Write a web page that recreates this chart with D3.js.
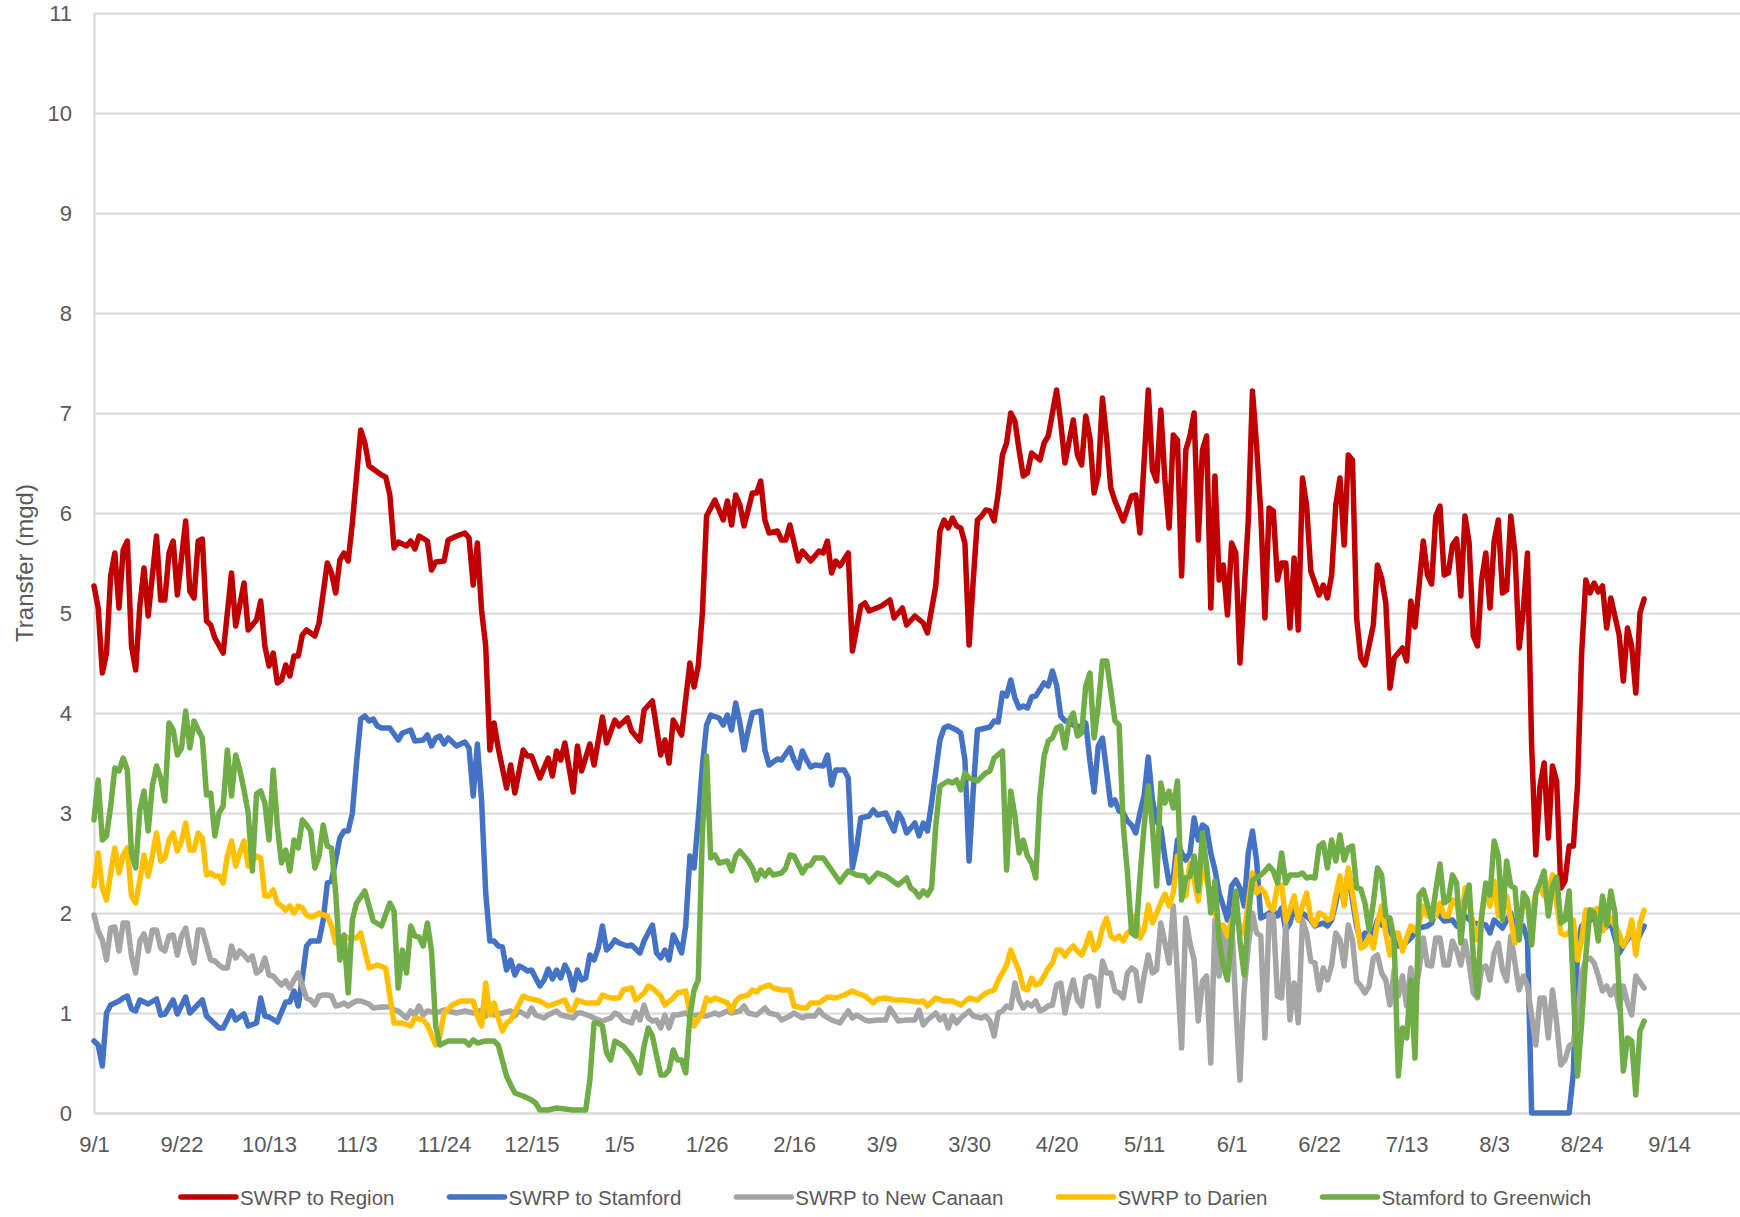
<!DOCTYPE html>
<html>
<head>
<meta charset="utf-8">
<script src="https://cdn.jsdelivr.net/npm/d3@7"></script>
<style>
  body { margin: 0; background: #fff; }
  svg text { font-family: 'Liberation Sans', Arial, sans-serif; fill: #595959; }
</style>
</head>
<body>
<svg id="chart" width="1740" height="1217"></svg>
<script>
/* ---------- data (day offset from 9/1, value in mgd) ---------- */
const startDate = new Date(Date.UTC(2018, 8, 1));
const tickEveryDays = 21;
const tickCount = 19;
const yTickValues = d3.range(0, 12);
const axisTitle = 'Transfer (mgd)';

const seriesNames = ['SWRP to Region', 'SWRP to Stamford', 'SWRP to New Canaan', 'SWRP to Darien', 'Stamford to Greenwich'];
const seriesColors = ['#C00000', '#4472C4', '#A5A5A5', '#FFC000', '#70AD47'];

const swrpToRegion = [
  [0,5.27],[1,5.05],[2,4.4],[3,4.6],[4,5.37],[5,5.6],[6,5.05],[7,5.63],[8,5.72],[9,4.67],[10,4.43],[11,5.07],[12,5.45],[13,4.97],[15,5.77],[16,5.13],[17,5.13],[18,5.6],[19,5.72],[20,5.18],
  [22,5.92],[23,5.22],[24,5.15],[25,5.72],[26,5.74],[27,4.92],[28,4.88],[29,4.75],[31,4.6],[33,5.4],[34,4.87],[36,5.3],[37,4.83],[39,4.93],[40,5.12],[41,4.67],[42,4.47],[43,4.6],[44,4.3],
  [45,4.33],[46,4.48],[47,4.37],[48,4.57],[49,4.57],[50,4.78],[51,4.83],[53,4.77],[54,4.9],[56,5.5],[57,5.4],[58,5.2],[59,5.53],[60,5.6],[61,5.52],[62,5.9],[64,6.83],[65,6.7],[66,6.47],
  [67,6.44],[69,6.38],[70,6.36],[71,6.18],[72,5.65],[73,5.71],[75,5.67],[76,5.72],[77,5.64],[78,5.77],[80,5.72],[81,5.43],[82,5.51],[84,5.52],[85,5.73],[87,5.77],[89,5.8],[90,5.75],
  [91,5.28],[92,5.7],[93,5.03],[94,4.67],[95,3.63],[96,3.9],[97,3.65],[99,3.25],[100,3.48],[101,3.2],[103,3.63],[104,3.57],[105,3.57],[107,3.35],[109,3.55],[110,3.37],[111,3.62],
  [112,3.53],[113,3.7],[115,3.21],[116,3.67],[117,3.42],[119,3.69],[120,3.48],[122,3.96],[123,3.7],[125,3.93],[126,3.87],[128,3.95],[129,3.82],[131,3.72],[132,4.03],[134,4.12],
  [136,3.58],[137,3.73],[138,3.5],[139,3.93],[141,3.78],[143,4.5],[144,4.26],[145,4.47],[146,5.0],[147,5.97],[149,6.13],[151,5.93],[152,6.12],[153,5.88],[154,6.18],[155,6.08],
  [156,5.87],[158,6.2],[159,6.2],[160,6.32],[161,5.93],[162,5.8],[164,5.82],[165,5.73],[166,5.73],[167,5.88],[169,5.52],[170,5.62],[172,5.52],[174,5.62],[175,5.6],[176,5.72],
  [177,5.4],[178,5.52],[179,5.47],[181,5.6],[182,4.62],[184,5.07],[185,5.1],[186,5.02],[189,5.07],[191,5.13],[192,4.95],[194,5.05],[195,4.88],[197,4.97],[199,4.9],[200,4.8],
  [202,5.27],[203,5.82],[204,5.93],[205,5.85],[206,5.95],[207,5.87],[208,5.85],[209,5.7],[210,4.68],[211,5.33],[212,5.93],[213,5.97],[214,6.03],[215,6.02],[216,5.92],[217,6.2],
  [218,6.58],[219,6.7],[220,7.0],[221,6.92],[222,6.63],[223,6.37],[224,6.4],[225,6.6],[227,6.53],[228,6.7],[229,6.77],[231,7.23],[232,6.9],[233,6.5],[235,6.93],[236,6.58],
  [237,6.48],[238,6.97],[239,6.75],[240,6.2],[241,6.38],[242,7.15],[243,6.75],[244,6.25],[245,6.12],[247,5.92],[249,6.17],[250,6.18],[251,5.8],[253,7.23],[254,6.43],[255,6.32],
  [256,7.03],[257,6.33],[258,5.85],[259,6.78],[260,6.73],[261,5.37],[262,6.63],[263,6.77],[264,7.0],[265,5.73],[266,6.63],[267,6.77],[268,5.05],[269,6.37],[270,5.33],[271,5.48],
  [272,4.98],[273,5.7],[274,5.6],[275,4.5],[277,5.93],[278,7.22],[279,6.67],[280,6.0],[281,4.95],[282,6.05],[283,6.02],[284,5.33],[285,5.5],[286,5.5],[287,4.85],[288,5.55],
  [289,4.83],[290,6.35],[291,6.07],[292,5.42],[294,5.18],[295,5.28],[296,5.15],[297,5.38],[298,6.08],[299,6.35],[300,5.68],[301,6.58],[302,6.53],[303,4.95],[304,4.55],[305,4.48],
  [307,4.88],[308,5.48],[309,5.35],[310,5.1],[311,4.25],[312,4.55],[314,4.65],[315,4.52],[316,5.12],[317,4.86],[318,5.28],[319,5.72],[320,5.38],[321,5.29],[322,5.97],[323,6.07],
  [324,5.38],[325,5.4],[326,5.68],[327,5.74],[328,5.17],[329,5.97],[330,5.7],[331,4.77],[332,4.67],[333,5.33],[334,5.6],[335,5.05],[336,5.72],[337,5.93],[338,5.2],[339,5.23],
  [340,5.97],[341,5.6],[342,4.65],[343,5.03],[344,5.6],[345,3.67],[346,2.58],[347,3.27],[348,3.5],[349,2.75],[350,3.47],[351,3.32],[352,2.25],[353,2.32],[354,2.67],[355,2.67],
  [356,3.27],[357,4.6],[358,5.33],[359,5.2],[360,5.3],[361,5.21],[362,5.27],[363,4.85],[364,5.15],[366,4.78],[367,4.32],[368,4.85],[369,4.67],[370,4.2],[371,5.0],[372,5.14]
];

const swrpToStamford = [
  [0,0.72],[1,0.68],[2,0.47],[3,1.0],[4,1.08],[6,1.12],[7,1.15],[8,1.17],[9,1.04],[10,1.02],[11,1.13],[13,1.09],[15,1.14],[16,0.98],[17,0.99],[19,1.13],[20,0.99],[22,1.16],[23,1.0],
  [26,1.13],[27,0.97],[28,0.93],[30,0.85],[31,0.85],[33,1.02],[34,0.93],[36,0.99],[37,0.87],[39,0.9],[40,1.15],[41,0.97],[42,0.96],[44,0.91],[46,1.11],[47,1.11],[48,1.22],[49,1.07],
  [50,1.35],[51,1.67],[52,1.72],[54,1.72],[55,1.93],[56,2.3],[57,2.32],[59,2.75],[60,2.82],[61,2.82],[62,3.0],[63,3.5],[64,3.94],[65,3.97],[66,3.92],[67,3.94],[68,3.87],[69,3.85],
  [71,3.85],[73,3.73],[74,3.8],[76,3.83],[77,3.72],[79,3.73],[80,3.78],[81,3.67],[82,3.75],[83,3.77],[84,3.69],[85,3.75],[87,3.67],[89,3.71],[90,3.65],[91,3.17],[92,3.69],[93,3.13],
  [94,2.2],[95,1.72],[96,1.72],[97,1.67],[98,1.66],[99,1.43],[100,1.53],[101,1.38],[102,1.47],[103,1.45],[104,1.42],[105,1.43],[106,1.35],[107,1.27],[108,1.33],[109,1.44],[110,1.34],
  [111,1.43],[112,1.35],[113,1.48],[114,1.4],[115,1.23],[116,1.43],[117,1.33],[118,1.35],[119,1.58],[120,1.53],[121,1.65],[122,1.87],[123,1.63],[124,1.67],[125,1.73],[126,1.7],
  [128,1.67],[129,1.68],[131,1.6],[132,1.72],[134,1.88],[135,1.6],[136,1.55],[137,1.63],[138,1.53],[139,1.78],[140,1.7],[141,1.6],[142,1.87],[143,2.57],[144,2.45],[145,2.93],
  [146,3.47],[147,3.88],[148,3.98],[150,3.95],[151,3.88],[152,3.98],[153,3.83],[154,4.1],[155,3.9],[156,3.63],[157,3.83],[158,4.0],[160,4.02],[161,3.63],[162,3.48],[164,3.54],
  [165,3.53],[167,3.65],[168,3.53],[169,3.45],[170,3.62],[171,3.53],[172,3.46],[173,3.48],[175,3.47],[176,3.58],[177,3.28],[178,3.43],[180,3.43],[181,3.35],[182,2.45],[183,2.65],
  [184,2.95],[186,2.97],[187,3.03],[188,2.98],[190,3.0],[192,2.82],[193,3.0],[194,2.93],[195,2.8],[197,2.9],[198,2.77],[199,2.9],[200,2.82],[201,3.1],[203,3.73],[204,3.85],
  [205,3.87],[207,3.83],[208,3.8],[209,3.53],[210,2.52],[211,3.23],[212,3.83],[214,3.85],[215,3.86],[216,3.92],[217,3.91],[218,4.2],[219,4.17],[220,4.33],[221,4.15],[222,4.05],
  [223,4.07],[224,4.05],[225,4.16],[226,4.17],[228,4.3],[229,4.27],[230,4.42],[231,4.28],[232,3.97],[233,3.92],[234,3.92],[235,3.88],[236,3.87],[237,3.85],[238,3.9],[239,3.52],
  [240,3.21],[241,3.67],[242,3.75],[243,3.42],[244,3.08],[245,3.13],[246,3.02],[247,3.0],[248,2.92],[249,2.88],[250,2.8],[251,3.0],[252,3.17],[253,3.56],[254,3.13],[255,2.92],
  [256,2.85],[257,2.55],[258,2.3],[259,2.35],[260,2.73],[261,2.6],[262,2.53],[263,2.6],[264,2.95],[265,2.73],[266,2.88],[267,2.85],[268,2.6],[269,2.43],[270,2.2],[271,2.07],
  [272,1.93],[273,2.27],[274,2.33],[275,2.25],[276,2.07],[277,2.6],[278,2.82],[279,2.52],[280,1.95],[281,1.97],[282,2.0],[283,2.02],[284,1.97],[285,2.05],[286,1.83],[287,1.9],
  [288,2.07],[289,1.93],[290,2.0],[292,1.93],[293,1.87],[295,1.9],[296,1.87],[297,1.93],[298,2.1],[299,2.33],[300,2.1],[301,2.43],[302,2.13],[303,1.87],[304,1.72],[305,1.8],
  [306,1.75],[307,1.8],[308,1.93],[309,1.88],[310,1.95],[311,1.83],[312,1.73],[313,1.67],[314,1.67],[316,1.75],[318,1.85],[320,1.87],[321,1.9],[322,2.02],[324,1.92],[326,1.93],
  [327,1.87],[329,1.97],[331,1.9],[334,1.88],[335,1.8],[336,1.93],[338,1.85],[340,2.0],[341,1.8],[343,1.87],[344,1.73],[345,0],[354,0],[355,0.4],[356,1.65],[357,1.87],[360,1.95],
  [362,1.83],[364,1.9],[366,1.6],[367,1.67],[369,1.8],[370,1.7],[372,1.87]
];

const swrpToNewCanaan = [
  [0,1.98],[1,1.82],[2,1.73],[3,1.53],[4,1.85],[5,1.86],[6,1.62],[7,1.9],[8,1.9],[9,1.57],[10,1.4],[11,1.72],[12,1.79],[13,1.62],[14,1.83],[15,1.83],[16,1.65],[17,1.62],[18,1.77],
  [19,1.78],[20,1.58],[21,1.77],[22,1.85],[23,1.63],[24,1.5],[25,1.83],[26,1.83],[27,1.68],[28,1.53],[29,1.52],[30,1.48],[31,1.45],[32,1.45],[33,1.67],[34,1.55],[35,1.62],[36,1.58],
  [37,1.53],[38,1.57],[39,1.4],[40,1.43],[41,1.55],[42,1.38],[43,1.37],[44,1.32],[45,1.28],[46,1.32],[47,1.25],[48,1.33],[49,1.4],[50,1.27],[51,1.15],[52,1.13],[53,1.08],[54,1.17],
  [55,1.18],[56,1.18],[57,1.17],[58,1.07],[59,1.08],[60,1.1],[61,1.07],[62,1.1],[63,1.12],[64,1.12],[66,1.09],[67,1.05],[69,1.06],[71,1.06],[72,1.03],[73,1.02],[75,0.95],[76,1.02],
  [77,0.98],[78,1.07],[79,0.98],[80,1.02],[82,1.0],[84,1.03],[85,1.02],[87,1.0],[89,1.02],[91,1.0],[93,1.03],[94,0.97],[95,1.05],[96,0.98],[98,1.0],[100,1.02],[101,0.97],[102,1.02],
  [104,0.97],[105,1.05],[106,0.98],[108,0.95],[109,0.98],[111,1.02],[112,0.98],[115,0.95],[116,1.0],[117,1.0],[119,0.97],[121,0.93],[122,0.92],[124,0.95],[125,1.0],[126,0.98],
  [127,0.93],[129,0.9],[130,1.01],[131,0.93],[132,1.08],[133,0.95],[134,0.92],[135,0.93],[136,0.85],[137,0.98],[138,0.85],[139,0.98],[140,0.98],[142,1.0],[143,0.97],[145,0.98],
  [147,0.97],[149,1.0],[150,0.98],[152,1.02],[153,1.0],[155,1.02],[156,1.07],[157,1.0],[159,0.98],[161,1.05],[162,1.0],[164,0.98],[165,0.93],[167,0.97],[168,1.0],[170,0.95],
  [171,0.97],[173,0.97],[174,1.03],[175,0.98],[177,0.93],[179,0.9],[181,1.02],[182,0.95],[183,0.98],[185,0.93],[186,0.92],[188,0.93],[190,0.93],[191,1.05],[193,0.92],[195,0.93],
  [197,0.93],[198,1.03],[199,0.88],[200,0.93],[202,1.0],[203,0.93],[204,0.97],[205,0.85],[206,0.97],[207,0.9],[208,0.95],[210,1.02],[211,0.97],[213,0.95],[214,0.97],[215,0.92],
  [216,0.77],[217,1.0],[218,1.02],[219,1.07],[220,1.05],[221,1.3],[222,1.13],[223,1.05],[224,1.1],[225,1.07],[226,1.12],[227,1.02],[228,1.04],[229,1.07],[230,1.08],[231,1.28],
  [232,1.3],[233,1.0],[234,1.18],[235,1.33],[236,1.13],[237,1.07],[238,1.35],[239,1.37],[240,1.35],[241,1.07],[242,1.52],[243,1.4],[244,1.4],[245,1.22],[246,1.2],[247,1.15],
  [248,1.4],[249,1.45],[250,1.42],[251,1.12],[252,1.37],[253,1.58],[254,1.4],[255,1.43],[256,1.9],[257,1.7],[258,1.5],[259,2.07],[260,1.38],[261,0.65],[262,1.95],[263,1.7],
  [264,1.53],[265,0.92],[266,1.32],[267,1.37],[268,0.5],[269,1.93],[270,1.37],[271,1.87],[272,1.48],[273,1.93],[274,1.07],[275,0.33],[276,1.23],[277,1.67],[278,2.0],[279,1.8],
  [280,1.77],[281,0.75],[282,1.98],[283,1.97],[284,1.17],[285,1.15],[286,1.88],[287,0.93],[288,1.3],[289,0.9],[290,1.93],[291,1.8],[292,1.52],[293,1.5],[294,1.23],[295,1.45],
  [296,1.33],[297,1.48],[298,1.8],[299,1.73],[300,1.47],[301,1.88],[302,1.73],[303,1.32],[304,1.27],[305,1.2],[306,1.27],[307,1.55],[308,1.58],[309,1.4],[310,1.33],[311,1.08],
  [312,1.43],[313,1.17],[314,1.37],[315,1.07],[316,1.45],[317,1.2],[318,1.43],[319,1.75],[320,1.48],[321,1.47],[322,1.75],[323,1.75],[324,1.48],[325,1.48],[326,1.72],[327,1.63],
  [328,1.48],[329,1.72],[330,1.5],[331,1.2],[332,1.15],[333,1.45],[334,1.47],[335,1.33],[336,1.6],[337,1.7],[338,1.43],[339,1.32],[340,1.77],[341,1.5],[342,1.23],[343,1.37],
  [344,1.27],[345,0.97],[346,0.68],[347,1.15],[348,1.15],[349,0.75],[350,1.23],[351,0.9],[352,0.48],[353,0.53],[354,0.67],[355,0.7],[356,0.93],[357,1.4],[358,1.53],[359,1.55],
  [360,1.5],[361,1.37],[362,1.22],[363,1.27],[364,1.18],[365,1.27],[366,1.05],[367,1.27],[368,1.1],[369,0.98],[370,1.37],[372,1.25]
];

const swrpToDarien = [
  [0,2.27],[1,2.6],[2,2.25],[3,2.13],[4,2.4],[5,2.65],[6,2.4],[7,2.58],[8,2.65],[9,2.17],[10,2.1],[11,2.33],[12,2.58],[13,2.37],[14,2.57],[15,2.8],[16,2.52],[17,2.55],[18,2.73],
  [19,2.8],[20,2.62],[21,2.72],[22,2.9],[23,2.63],[24,2.63],[25,2.8],[26,2.75],[27,2.38],[28,2.4],[29,2.37],[30,2.37],[31,2.3],[32,2.57],[33,2.72],[34,2.47],[35,2.6],[36,2.72],
  [37,2.47],[38,2.52],[39,2.57],[40,2.55],[41,2.17],[42,2.17],[43,2.23],[44,2.1],[45,2.07],[46,2.03],[47,2.07],[48,2.0],[49,2.07],[50,2.05],[51,1.98],[52,1.96],[53,1.97],[54,2.0],
  [55,1.98],[56,1.97],[57,1.87],[58,1.7],[59,1.7],[60,1.77],[61,1.75],[63,1.75],[64,1.8],[65,1.62],[66,1.45],[68,1.48],[70,1.45],[71,1.17],[72,0.9],[74,0.9],[76,0.87],[77,0.95],
  [79,0.93],[80,0.88],[82,0.68],[83,0.77],[84,1.0],[86,1.08],[88,1.12],[91,1.12],[92,0.97],[93,0.87],[94,1.3],[95,0.98],[96,1.1],[97,0.95],[98,0.82],[99,0.9],[100,0.93],[103,1.17],
  [104,1.15],[107,1.12],[109,1.07],[111,1.1],[113,1.13],[114,1.03],[115,1.03],[116,1.13],[118,1.1],[121,1.1],[122,1.18],[124,1.15],[126,1.15],[127,1.23],[129,1.25],[130,1.13],
  [132,1.2],[133,1.27],[134,1.25],[136,1.17],[137,1.08],[139,1.15],[140,1.2],[142,1.22],[143,1.0],[144,0.87],[146,1.0],[147,1.15],[148,1.12],[149,1.15],[151,1.12],[152,1.1],
  [153,1.02],[154,1.12],[155,1.16],[157,1.18],[158,1.23],[159,1.21],[160,1.25],[162,1.28],[163,1.25],[165,1.23],[167,1.23],[168,1.07],[170,1.05],[171,1.05],[172,1.1],[174,1.1],
  [176,1.16],[178,1.15],[180,1.18],[182,1.22],[183,1.2],[185,1.17],[187,1.1],[188,1.14],[190,1.15],[192,1.13],[194,1.13],[196,1.12],[198,1.11],[199,1.12],[200,1.07],[202,1.15],
  [204,1.12],[206,1.12],[208,1.08],[210,1.15],[212,1.13],[214,1.2],[216,1.23],[217,1.33],[218,1.4],[219,1.48],[220,1.63],[221,1.52],[222,1.42],[223,1.25],[224,1.23],[225,1.35],
  [226,1.28],[227,1.3],[228,1.37],[229,1.45],[230,1.5],[231,1.63],[232,1.63],[233,1.57],[234,1.63],[235,1.67],[236,1.62],[237,1.58],[238,1.67],[239,1.8],[240,1.63],[241,1.67],
  [242,1.85],[243,1.95],[244,1.77],[245,1.74],[246,1.77],[247,1.72],[248,1.8],[249,1.83],[250,1.98],[251,1.75],[252,1.83],[253,2.08],[254,1.9],[255,2.0],[256,2.1],[257,2.19],
  [258,2.07],[259,2.2],[260,2.57],[261,2.4],[262,2.17],[263,2.5],[264,2.33],[265,2.12],[266,2.48],[267,2.33],[268,2.17],[269,2.0],[270,1.87],[271,1.88],[272,1.77],[273,1.92],
  [274,2.0],[275,1.87],[276,1.8],[277,2.1],[278,2.4],[279,2.2],[280,2.25],[281,2.2],[282,2.07],[283,2.03],[284,2.27],[285,2.28],[286,1.92],[287,2.03],[288,2.17],[289,1.93],
  [290,2.07],[291,2.2],[292,1.95],[293,1.88],[294,2.0],[295,1.98],[296,1.93],[297,1.95],[298,2.18],[299,2.37],[300,2.07],[301,2.45],[302,2.2],[303,1.93],[304,1.65],[305,1.67],
  [306,1.77],[307,1.65],[308,1.9],[309,2.07],[310,1.8],[311,1.58],[312,1.8],[313,1.8],[314,1.62],[315,1.75],[316,1.87],[317,1.82],[318,1.9],[319,2.07],[320,1.97],[321,2.02],
  [322,1.97],[323,2.1],[324,1.97],[325,1.97],[326,2.13],[327,2.1],[328,1.87],[329,2.25],[330,2.1],[331,1.87],[332,1.73],[333,1.97],[334,2.25],[335,2.07],[336,2.32],[337,1.97],
  [338,2.07],[339,2.17],[340,1.93],[341,1.7],[342,1.92],[343,2.07],[344,2.07],[345,1.97],[346,2.2],[347,2.27],[348,2.17],[349,2.2],[350,2.38],[351,2.1],[352,1.8],[353,1.78],
  [354,1.8],[355,1.93],[356,1.53],[357,1.73],[358,2.03],[359,2.03],[360,2.03],[361,2.05],[362,1.82],[364,1.95],[365,1.87],[366,1.8],[367,1.67],[368,1.75],[369,1.93],[370,1.58],
  [371,1.9],[372,2.03]
];

const stamfordToGreenwich = [
  [0,2.93],[1,3.33],[2,2.73],[3,2.77],[4,3.07],[5,3.45],[6,3.42],[7,3.55],[8,3.43],[9,2.6],[10,2.45],[11,3.03],[12,3.22],[13,2.82],[14,3.27],[15,3.47],[16,3.35],[17,3.12],[18,3.9],
  [19,3.83],[20,3.58],[21,3.65],[22,4.02],[23,3.65],[24,3.92],[25,3.83],[26,3.75],[27,3.18],[28,3.2],[29,2.77],[30,3.0],[31,3.07],[32,3.63],[33,3.17],[34,3.58],[35,3.43],[36,3.23],
  [37,3.0],[38,2.42],[39,3.19],[40,3.22],[41,3.1],[42,2.73],[43,3.43],[44,2.87],[45,2.5],[46,2.63],[47,2.42],[48,2.73],[49,2.65],[50,2.93],[51,2.88],[52,2.82],[53,2.45],[54,2.57],
  [55,2.88],[56,2.67],[57,2.65],[58,2.2],[59,1.53],[60,1.78],[61,1.2],[62,1.93],[63,2.1],[65,2.22],[67,1.92],[69,1.87],[71,2.1],[72,2.02],[73,1.25],[74,1.63],[75,1.4],[76,1.87],
  [77,1.77],[78,1.76],[79,1.67],[80,1.9],[81,1.62],[82,0.87],[83,0.68],[85,0.72],[87,0.72],[89,0.72],[90,0.68],[91,0.73],[92,0.7],[94,0.72],[96,0.72],[97,0.68],[99,0.37],[100,0.28],
  [101,0.2],[103,0.17],[105,0.13],[106,0.1],[107,0.03],[109,0.03],[111,0.05],[113,0.04],[115,0.03],[118,0.03],[119,0.33],[120,0.9],[121,0.9],[122,0.87],[123,0.6],[124,0.53],
  [125,0.72],[127,0.67],[129,0.57],[131,0.4],[132,0.67],[133,0.85],[134,0.77],[136,0.38],[137,0.38],[138,0.43],[139,0.63],[140,0.53],[141,0.53],[142,0.4],[143,0.97],[144,1.23],
  [145,1.33],[146,2.8],[147,3.57],[148,2.55],[149,2.58],[150,2.5],[152,2.52],[153,2.42],[154,2.57],[155,2.62],[156,2.57],[157,2.52],[158,2.45],[159,2.33],[160,2.43],[161,2.37],
  [162,2.43],[163,2.38],[165,2.4],[166,2.45],[167,2.58],[168,2.57],[170,2.4],[171,2.47],[172,2.48],[173,2.55],[175,2.55],[177,2.43],[179,2.31],[180,2.37],[181,2.42],[183,2.38],
  [185,2.37],[186,2.31],[188,2.4],[190,2.37],[193,2.28],[195,2.35],[196,2.25],[197,2.22],[198,2.16],[199,2.22],[200,2.18],[201,2.25],[202,2.87],[203,3.27],[205,3.32],[206,3.3],
  [207,3.33],[208,3.23],[209,3.4],[210,3.35],[212,3.32],[214,3.4],[215,3.42],[216,3.55],[218,3.62],[219,2.43],[220,3.22],[221,2.97],[222,2.6],[223,2.73],[224,2.57],[225,2.5],
  [226,2.35],[227,3.17],[228,3.57],[229,3.72],[230,3.75],[231,3.85],[232,3.87],[233,3.65],[234,3.92],[235,4.0],[236,3.77],[237,3.8],[238,4.27],[239,4.4],[240,3.75],[241,4.07],
  [242,4.52],[243,4.52],[244,4.23],[245,3.92],[246,3.88],[247,2.87],[248,2.4],[249,1.8],[250,1.77],[251,2.35],[252,2.87],[253,3.27],[254,2.87],[255,2.27],[256,3.3],[257,3.1],
  [258,3.22],[259,3.05],[260,3.32],[261,2.13],[262,2.35],[263,2.37],[264,2.57],[265,2.22],[266,2.8],[267,2.47],[268,2.0],[269,2.32],[270,1.73],[271,1.47],[272,1.33],[273,1.77],
  [274,2.22],[275,1.72],[276,1.38],[277,1.97],[278,2.33],[280,2.38],[281,2.42],[282,2.47],[283,2.42],[284,2.3],[285,2.6],[286,2.3],[287,2.38],[289,2.38],[290,2.4],[291,2.35],
  [292,2.36],[293,2.35],[294,2.67],[295,2.7],[296,2.45],[297,2.73],[298,2.52],[299,2.78],[300,2.53],[301,2.65],[302,2.67],[303,2.25],[304,2.24],[305,2.1],[306,1.83],[307,2.1],
  [308,2.45],[309,2.38],[310,1.97],[311,1.95],[312,1.73],[313,0.37],[314,0.85],[315,0.75],[316,1.33],[317,0.55],[318,2.18],[319,2.23],[320,2.08],[321,1.93],[322,2.23],[323,2.49],
  [324,2.1],[325,2.13],[326,2.38],[327,2.3],[328,1.7],[329,2.12],[330,2.28],[331,1.57],[332,1.17],[333,1.97],[334,2.3],[335,2.18],[336,2.72],[337,2.57],[338,1.93],[339,2.52],
  [340,2.27],[341,2.25],[342,1.73],[343,2.2],[344,2.13],[345,1.68],[346,2.2],[347,2.3],[348,2.42],[349,1.97],[350,2.27],[351,2.36],[352,1.9],[353,1.93],[354,2.22],[355,1.23],
  [356,0.37],[357,0.9],[358,1.57],[359,2.03],[360,2.0],[361,1.72],[362,2.17],[363,1.88],[364,2.22],[365,2.0],[366,1.23],[367,0.42],[368,0.75],[369,0.72],[370,0.18],[371,0.82],
  [372,0.92]
];

const seriesData = [swrpToRegion, swrpToStamford, swrpToNewCanaan, swrpToDarien, stamfordToGreenwich];

/* ---------- layout ---------- */
const CHART = {
  width: 1740,
  height: 1217,
  plot: { left: 94, right: 1740, top: 13, bottom: 1113 },
  daysShown: 395,
  lineWidth: 5.5,
  gridColor: '#d9d9d9',
  textColor: '#595959',
};

const svg = d3.select('#chart');
const dayOf = n => d3.utcDay.offset(startDate, n);

const x = d3.scaleUtc()
  .domain([startDate, dayOf(CHART.daysShown)])
  .range([CHART.plot.left, CHART.plot.right]);

const y = d3.scaleLinear()
  .domain([0, 11])
  .range([CHART.plot.bottom, CHART.plot.top]);

// gridlines + y labels
const yAxis = svg.append('g')
  .attr('transform', `translate(${CHART.plot.left},0)`)
  .call(d3.axisLeft(y)
    .tickValues(yTickValues)
    .tickSizeInner(-(CHART.plot.right - CHART.plot.left))
    .tickSizeOuter(0)
    .tickPadding(22));
yAxis.attr('font-family', null).attr('font-size', null);
yAxis.select('.domain').attr('stroke', CHART.gridColor).attr('stroke-width', 2);
yAxis.selectAll('.tick line').attr('stroke', CHART.gridColor).attr('stroke-width', 2);
yAxis.selectAll('.tick text').attr('font-size', 22).attr('fill', CHART.textColor);

// x axis
const tickDates = d3.range(tickCount).map(i => dayOf(i * tickEveryDays));
const xAxis = svg.append('g')
  .attr('transform', `translate(0,${CHART.plot.bottom})`)
  .call(d3.axisBottom(x)
    .tickValues(tickDates)
    .tickFormat(d3.utcFormat('%-m/%-d'))
    .tickSizeInner(0)
    .tickSizeOuter(0)
    .tickPadding(23));
xAxis.attr('font-family', null).attr('font-size', null);
xAxis.select('.domain').attr('stroke', CHART.gridColor).attr('stroke-width', 2);
xAxis.selectAll('.tick line').remove();
xAxis.selectAll('.tick text').attr('font-size', 22).attr('fill', CHART.textColor);

// axis title
svg.append('text')
  .attr('transform', `translate(24,${(CHART.plot.top + CHART.plot.bottom) / 2}) rotate(-90)`)
  .attr('text-anchor', 'middle')
  .attr('dominant-baseline', 'central')
  .attr('font-size', 24)
  .text(axisTitle);

// series lines
const line = d3.line()
  .x(d => x(dayOf(d[0])))
  .y(d => y(d[1]));

svg.append('g')
  .selectAll('path')
  .data(seriesData)
  .enter()
  .append('path')
  .attr('d', line)
  .attr('fill', 'none')
  .attr('stroke', (d, i) => seriesColors[i])
  .attr('stroke-width', CHART.lineWidth)
  .attr('stroke-linejoin', 'round')
  .attr('stroke-linecap', 'round');

// legend
const legend = svg.append('g').attr('transform', 'translate(0,1197)');
const swatch = 55, swatchGap = 4, itemGap = 55;
let cursor = 0;
seriesNames.forEach((name, i) => {
  const item = legend.append('g').attr('transform', `translate(${cursor},0)`);
  item.append('line')
    .attr('x1', 0).attr('x2', swatch)
    .attr('stroke', seriesColors[i])
    .attr('stroke-width', CHART.lineWidth)
    .attr('stroke-linecap', 'round');
  const label = item.append('text')
    .attr('x', swatch + swatchGap)
    .attr('dominant-baseline', 'central')
    .attr('font-size', 20.5)
    .text(name);
  cursor += swatch + swatchGap + label.node().getComputedTextLength() + itemGap;
});
const legendWidth = cursor - itemGap;
legend.attr('transform', `translate(${886 - legendWidth / 2},1197)`);
</script>
</body>
</html>
